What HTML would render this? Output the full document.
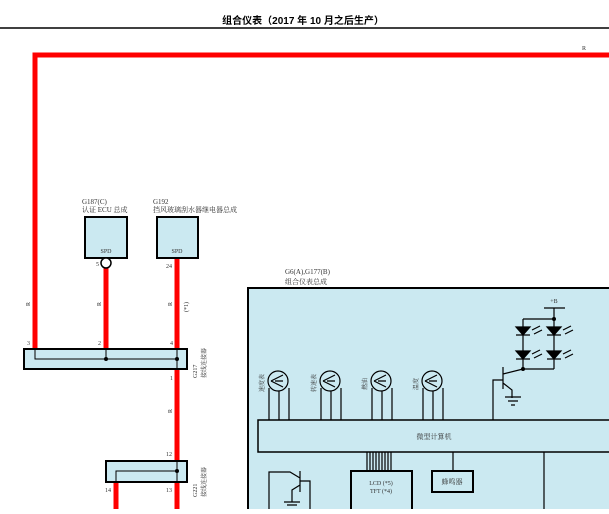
<!DOCTYPE html>
<html><head><meta charset="utf-8"><style>
body{margin:0;background:#fff;width:609px;height:509px;overflow:hidden}
svg text{font-family:"Liberation Serif","Noto Serif CJK SC",serif;fill:#333}
</style></head><body>
<svg width="609" height="509" viewBox="0 0 609 509" xmlns="http://www.w3.org/2000/svg">
<text x="303" y="24" text-anchor="middle" font-size="10" font-weight="bold" style="fill:#000;font-family:'Liberation Sans','Noto Sans CJK SC',sans-serif">组合仪表（2017 年 10 月之后生产）</text>
<line x1="0" y1="28" x2="609" y2="28" stroke="#000" stroke-width="1.5"/>
<text x="582" y="50" font-size="6">R</text>
<!-- red wires -->
<g stroke="#f00" stroke-width="5" fill="none">
<path d="M35 349 V55 H609"/>
<line x1="106" y1="268" x2="106" y2="349"/>
<line x1="177" y1="258" x2="177" y2="461"/>
<line x1="116" y1="482" x2="116" y2="509"/>
<line x1="177" y1="482" x2="177" y2="509"/>
</g>
<!-- ECU boxes -->
<text x="82" y="204" font-size="7">G187(C)</text>
<text x="82" y="212" font-size="7">认证 ECU 总成</text>
<text x="153" y="204" font-size="7">G192</text>
<text x="153" y="212" font-size="7">挡风玻璃刮水器继电器总成</text>
<rect x="85" y="217" width="42" height="41" fill="#cbe9f1" stroke="#000" stroke-width="2"/>
<rect x="157" y="217" width="41" height="41" fill="#cbe9f1" stroke="#000" stroke-width="2"/>
<text x="106" y="253" font-size="6" text-anchor="middle">SPD</text>
<text x="177" y="253" font-size="6" text-anchor="middle">SPD</text>
<circle cx="106" cy="263" r="5" fill="#fff" stroke="#000" stroke-width="1.5"/>
<text x="96" y="266" font-size="6">5</text>
<text x="166" y="268" font-size="6">24</text>
<g font-size="6">
<text transform="translate(30,306) rotate(-90)">R</text>
<text transform="translate(101,306) rotate(-90)">R</text>
<text transform="translate(172,306) rotate(-90)">R</text>
<text transform="translate(188,312) rotate(-90)">(*1)</text>
<text transform="translate(172,413) rotate(-90)">R</text>
<text x="27" y="345">3</text><text x="98" y="345">2</text><text x="170" y="345">4</text>
<text x="170" y="380">1</text><text x="166" y="456">12</text>
<text x="105" y="492">14</text><text x="166" y="492">13</text>
<text transform="translate(197,378) rotate(-90)">G217</text>
<text transform="translate(206,378) rotate(-90)">接线连接器</text>
<text transform="translate(197,497) rotate(-90)">G221</text>
<text transform="translate(206,497) rotate(-90)">接线连接器</text>
</g>
<rect x="24" y="349" width="163" height="20" fill="#cbe9f1" stroke="#000" stroke-width="2"/>
<path d="M35 349 V359 H177 M106 349 V359 M177 349 V369" stroke="#000" fill="none"/>
<circle cx="106" cy="359" r="2" fill="#000"/><circle cx="177" cy="359" r="2" fill="#000"/>
<rect x="106" y="461" width="81" height="21" fill="#cbe9f1" stroke="#000" stroke-width="2"/>
<path d="M177 461 V482 M177 471 H116 V482" stroke="#000" fill="none"/>
<circle cx="177" cy="471" r="2" fill="#000"/>
<!-- combination meter -->
<text x="285" y="274" font-size="7">G6(A),G177(B)</text>
<text x="285" y="284" font-size="7">组合仪表总成</text>
<rect x="248" y="288" width="370" height="230" fill="#cbe9f1" stroke="#000" stroke-width="2"/>
<rect x="258" y="420" width="360" height="32" fill="#cbe9f1" stroke="#000" stroke-width="1.5"/>
<text x="434" y="439" font-size="7" text-anchor="middle">微型计算机</text>
<g stroke="#000" fill="none" stroke-width="1.2">
<g id="g1">
<circle cx="278" cy="381" r="10"/>
<path d="M271 381 L283 375 M271 381 L283 387 M275 381 H283 M269 388 V420 M279 391 V420 M289 388 V420"/>
</g>
<use href="#g1" x="52"/><use href="#g1" x="103"/><use href="#g1" x="154"/>
<!-- transistor right -->
<path d="M493 420 V380 H503 M503 367 V389 M503 374 L523 369 M503 383 L512 390 V398 M505 397 H521 M508 401 H518 M511 405 H515"/>
<!-- LEDs -->
<path d="M544 308 H565 M554 308 V319 M523 319 H554 M523 319 V369 M554 319 V369 M523 369 H554"/>
<path d="M532 413 V0" stroke="none"/>
</g>
<circle cx="523" cy="369" r="2" fill="#000"/><circle cx="554" cy="319" r="2" fill="#000"/>
<text x="554" y="303" font-size="6" text-anchor="middle">+B</text>
<g fill="#000" stroke="#000" stroke-width="1.2">
<path d="M516 327 H530 L523 335 Z M516 335 H530"/>
<path d="M547 327 H561 L554 335 Z M547 335 H561"/>
<path d="M516 351 H530 L523 359 Z M516 359 H530"/>
<path d="M547 351 H561 L554 359 Z M547 359 H561"/>
<path d="M532 330 L540 326 M534 334 L542 330 M563 330 L571 326 M565 334 L573 330 M532 354 L540 350 M534 358 L542 354 M563 354 L571 350 M565 358 L573 354" fill="none"/>
</g>
<g font-size="6">
<text transform="translate(264,392) rotate(-90)">速度表</text>
<text transform="translate(316,392) rotate(-90)">转速表</text>
<text transform="translate(367,390) rotate(-90)">燃油</text>
<text transform="translate(418,390) rotate(-90)">温度</text>
</g>
<!-- lower parts -->
<g stroke="#000" fill="none" stroke-width="1.2">
<path d="M367 452 V471 M370 452 V471 M373 452 V471 M376 452 V471 M379 452 V471 M382 452 V471 M385 452 V471 M388 452 V471 M391 452 V471"/>
<path d="M453 452 V471 M544 452 V509"/>
<path d="M269 509 V472 H290 L300 478 M300 471 V492 M300 481 H310 V509 M300 485 L292 490 V502 M284 502 H300 M287 505 H297"/>
</g>
<rect x="351" y="471" width="61" height="45" fill="#cbe9f1" stroke="#000" stroke-width="2"/>
<text x="381" y="485" font-size="6" text-anchor="middle">LCD (*5)</text>
<text x="381" y="493" font-size="6" text-anchor="middle">TFT (*4)</text>
<rect x="432" y="471" width="41" height="21" fill="#cbe9f1" stroke="#000" stroke-width="2"/>
<text x="452" y="484" font-size="7" text-anchor="middle">蜂鸣器</text>
</svg>
</body></html>
